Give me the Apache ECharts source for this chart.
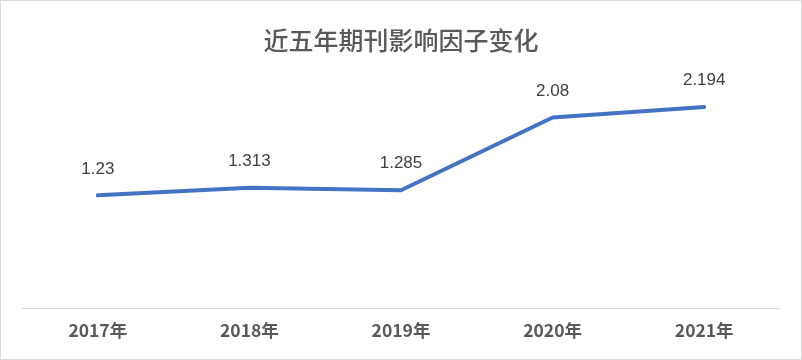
<!DOCTYPE html>
<html><head><meta charset="utf-8">
<script src="https://cdn.jsdelivr.net/npm/echarts@6/dist/echarts.min.js"></script>
<style>html,body{margin:0;padding:0;background:#fff}#c{width:802px;height:360px;box-sizing:border-box;border:1px solid #d9d9d9}</style>
</head><body><div id="c"></div>
<script>
const categories = ['2017年','2018年','2019年','2020年','2021年'];
const values = [1.23, 1.313, 1.285, 2.08, 2.194];
const titleText = '近五年期刊影响因子变化';
const chart = echarts.init(document.getElementById('c'));
chart.setOption({
  animation: false,
  title: {text: titleText, left: 'center', top: 22, textStyle: {fontFamily: 'Noto Sans CJK SC', fontSize: 25, fontWeight: 500, color: '#595959'}},
  grid: {left: 21, right: 21, top: 78, bottom: 51},
  xAxis: {type: 'category', data: categories, boundaryGap: true,
    axisLine: {lineStyle: {color: '#d9d9d9', width: 1}}, axisTick: {show: false},
    axisLabel: {color: '#595959', fontSize: 17.5, fontWeight: 'bold', fontFamily: 'Noto Sans CJK SC', margin: 14}},
  yAxis: {type: 'value', min: 0, max: 2.5, show: false, splitLine: {show: false}},
  series: [{type: 'line', data: values, showSymbol: true, symbol: 'circle', symbolSize: 2,
    itemStyle: {color: 'rgba(68,114,196,0)', borderWidth: 0},
    lineStyle: {color: '#4472C4', width: 4, cap: 'round'},
    label: {show: true, position: 'top', distance: 17, color: '#404040', fontSize: 17, fontFamily: 'Liberation Sans'}}]
});
</script></body></html>
